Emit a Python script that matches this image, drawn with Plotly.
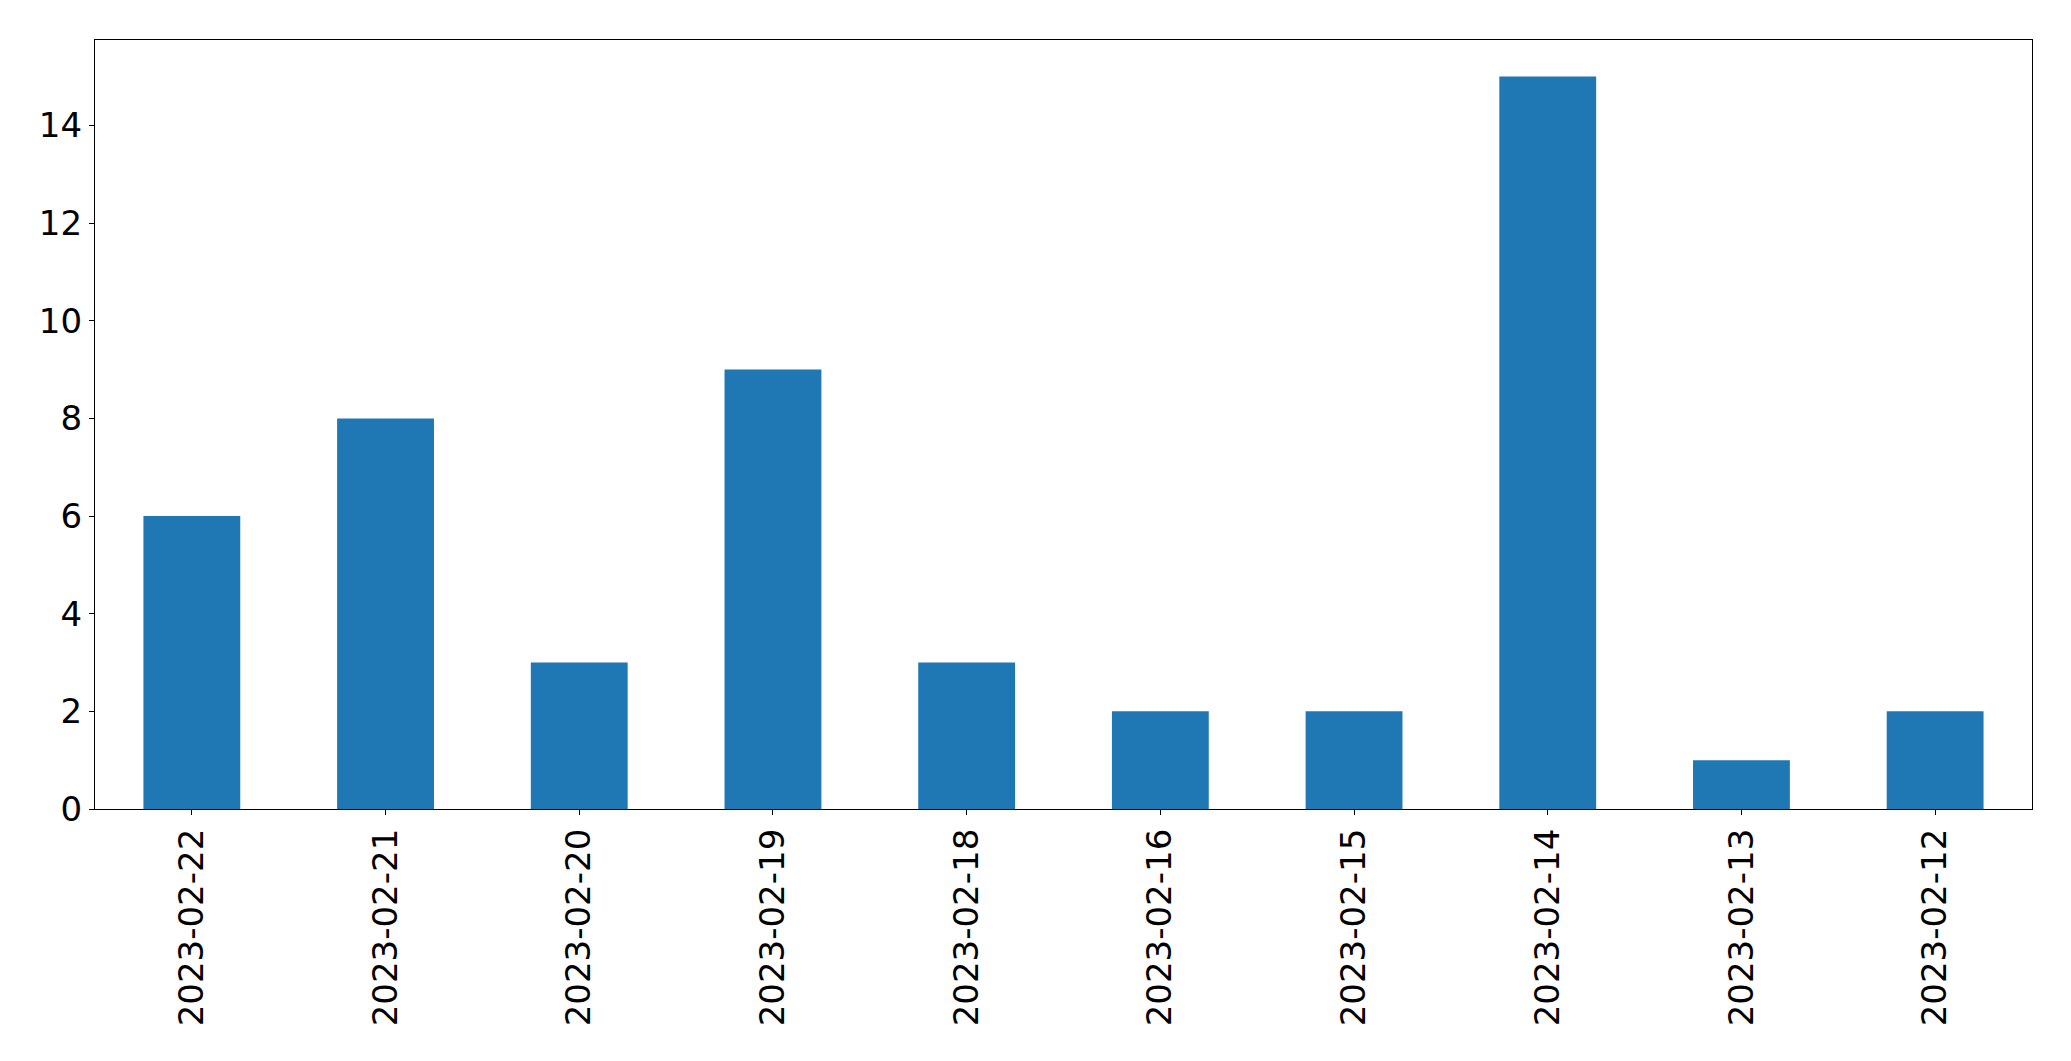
import plotly.graph_objects as go

dates = ["2023-02-22", "2023-02-21", "2023-02-20", "2023-02-19", "2023-02-18",
         "2023-02-16", "2023-02-15", "2023-02-14", "2023-02-13", "2023-02-12"]
counts = [6, 8, 3, 9, 3, 2, 2, 15, 1, 2]
y_ticks = [0, 2, 4, 6, 8, 10, 12, 14]

fig = go.Figure()
fig.add_trace(go.Bar(x=dates, y=counts, width=0.5, marker=dict(color="#1f77b4", line=dict(width=0))))

font = dict(family="DejaVu Sans", size=34, color="black")
# page body has an 8px margin; figure sized/positioned to compensate
fig.update_layout(
    width=2055, height=1045,
    margin=dict(l=87, r=31, t=32, b=244, autoexpand=False),
    plot_bgcolor="white", paper_bgcolor="white",
    showlegend=False,
    font=font,
)
fig.update_xaxes(type="category", range=[-0.5, 9.5], showline=True, linecolor="black", linewidth=1.3,
                 mirror=True, ticks="outside", ticklen=5, tickwidth=1.3, tickcolor="black",
                 tickangle=-90, showgrid=False, zeroline=False, tickfont=font, automargin=False)
fig.update_yaxes(range=[0, 15.75], tickvals=y_ticks, showline=True, linecolor="black", linewidth=1.3,
                 mirror=True, ticks="outside", ticklen=5, tickwidth=1.3, tickcolor="black",
                 showgrid=False, zeroline=False, tickfont=font, automargin=False)
fig.write_html("out.html")
